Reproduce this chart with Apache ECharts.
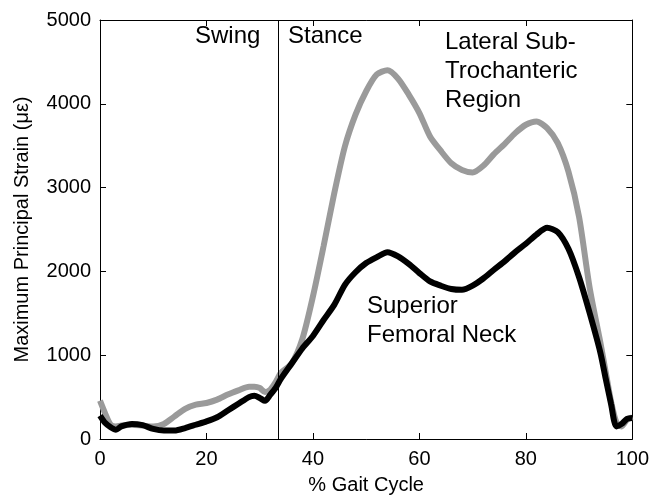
<!DOCTYPE html>
<html>
<head>
<meta charset="utf-8">
<script src="https://cdn.jsdelivr.net/npm/echarts@6/dist/echarts.min.js"></script>
<style>
  html, body { margin: 0; padding: 0; background: #fff; }
  #chart { width: 652px; height: 500px; }
</style>
</head>
<body>
<div id="chart"></div>
<script>
// Percent of the gait cycle at which strain was sampled
const gaitPct = [0, 1, 2, 3, 4, 6, 8, 10, 12, 14, 16, 18, 20, 22, 24, 26, 28, 29, 30, 31, 32, 33, 34,
  36, 38, 40, 42, 44, 46, 48, 50, 52, 54, 56, 58, 60, 62, 64, 66, 68, 70, 72, 74, 76, 78, 80,
  82, 84, 86, 88, 90, 92, 94, 95, 96, 97, 98, 99, 100];

// Maximum principal strain (microstrain), lateral sub-trochanteric region
const lateralSubTrochanteric = [457, 300, 170, 150, 160, 170, 160, 150, 180, 270, 360, 410, 430, 470, 530, 580, 625, 625, 610, 560, 590, 680, 790,
  900, 1190, 1700, 2300, 2930, 3490, 3870, 4150, 4350, 4400, 4300, 4110, 3890, 3610, 3440, 3290, 3210, 3180, 3260, 3400, 3520, 3650, 3750,
  3790, 3710, 3530, 3190, 2650, 1800, 1150, 800, 450, 200, 150, 230, 260];

// Maximum principal strain (microstrain), superior femoral neck
const superiorFemoralNeck = [280, 190, 140, 110, 150, 180, 165, 120, 100, 100, 130, 170, 210, 260, 340, 420, 500, 515, 490, 455, 530, 610, 720,
  900, 1080, 1230, 1420, 1600, 1840, 1990, 2100, 2170, 2230, 2180, 2090, 1980, 1880, 1830, 1790, 1780, 1830, 1915, 2020, 2120, 2230, 2330,
  2440, 2520, 2470, 2270, 1930, 1500, 1030, 720, 420, 150, 180, 240, 250];

// Boundary between swing and stance phases
const phaseBoundary = 33.5;

const xTicks = { min: 0, max: 100, interval: 20 };
const yTicks = { min: 0, max: 5000, interval: 1000 };

const FONT = '"Liberation Sans", Arial, sans-serif';

const pairs = (ys) => gaitPct.map((x, i) => [x, ys[i]]);

const frameLine = { show: true, onZero: false, lineStyle: { color: '#000', width: 1 } };
const innerTick = { show: true, inside: true, length: 6, lineStyle: { color: '#000', width: 1 } };

const chart = echarts.init(document.getElementById('chart'), null, { renderer: 'canvas' });

chart.setOption({
  animation: false,
  backgroundColor: '#fff',
  grid: { left: 100, right: 19, top: 20, bottom: 58, containLabel: false },
  xAxis: [
    {
      type: 'value', ...xTicks,
      name: '% Gait Cycle', nameLocation: 'middle', nameGap: 36,
      nameTextStyle: { fontFamily: FONT, fontSize: 20, color: '#000' },
      axisLine: frameLine, axisTick: innerTick,
      axisLabel: { fontFamily: FONT, fontSize: 20, color: '#000', margin: 10, formatter: (v) => String(v) },
      splitLine: { show: false }
    },
    {
      type: 'value', ...xTicks, position: 'top',
      axisLine: frameLine, axisTick: innerTick,
      axisLabel: { show: false }, splitLine: { show: false }
    }
  ],
  yAxis: [
    {
      type: 'value', ...yTicks,
      name: 'Maximum Principal Strain (με)', nameLocation: 'middle', nameGap: 68,
      nameTextStyle: { fontFamily: FONT, fontSize: 20, color: '#000' },
      axisLine: frameLine, axisTick: innerTick,
      axisLabel: { fontFamily: FONT, fontSize: 20, color: '#000', margin: 9, formatter: (v) => String(v) },
      splitLine: { show: false }
    },
    {
      type: 'value', ...yTicks, position: 'right',
      axisLine: frameLine, axisTick: innerTick,
      axisLabel: { show: false }, splitLine: { show: false }
    }
  ],
  series: [
    {
      name: 'Lateral Sub-Trochanteric Region',
      type: 'line',
      data: pairs(lateralSubTrochanteric),
      showSymbol: false,
      smooth: 0.25,
      lineStyle: { color: '#9a9a9a', width: 6 },
      markLine: {
        silent: true,
        symbol: 'none',
        label: { show: false },
        lineStyle: { color: '#000', width: 1, type: 'solid' },
        data: [{ xAxis: phaseBoundary }]
      },
      z: 2
    },
    {
      name: 'Superior Femoral Neck',
      type: 'line',
      data: pairs(superiorFemoralNeck),
      showSymbol: false,
      smooth: 0.25,
      lineStyle: { color: '#000', width: 6 },
      z: 3
    }
  ],
  graphic: [
    { type: 'text', x: 195, y: 36, style: { text: 'Swing', font: '24px ' + FONT, fill: '#000', verticalAlign: 'middle' } },
    { type: 'text', x: 288, y: 36, style: { text: 'Stance', font: '24px ' + FONT, fill: '#000', verticalAlign: 'middle' } },
    { type: 'text', x: 445, y: 42, style: { text: 'Lateral Sub-', font: '24px ' + FONT, fill: '#000', verticalAlign: 'middle' } },
    { type: 'text', x: 445, y: 71, style: { text: 'Trochanteric', font: '24px ' + FONT, fill: '#000', verticalAlign: 'middle' } },
    { type: 'text', x: 445, y: 100, style: { text: 'Region', font: '24px ' + FONT, fill: '#000', verticalAlign: 'middle' } },
    { type: 'text', x: 367, y: 306, style: { text: 'Superior', font: '24px ' + FONT, fill: '#000', verticalAlign: 'middle' } },
    { type: 'text', x: 367, y: 335, style: { text: 'Femoral Neck', font: '24px ' + FONT, fill: '#000', verticalAlign: 'middle' } }
  ]
});
</script>
</body>
</html>
